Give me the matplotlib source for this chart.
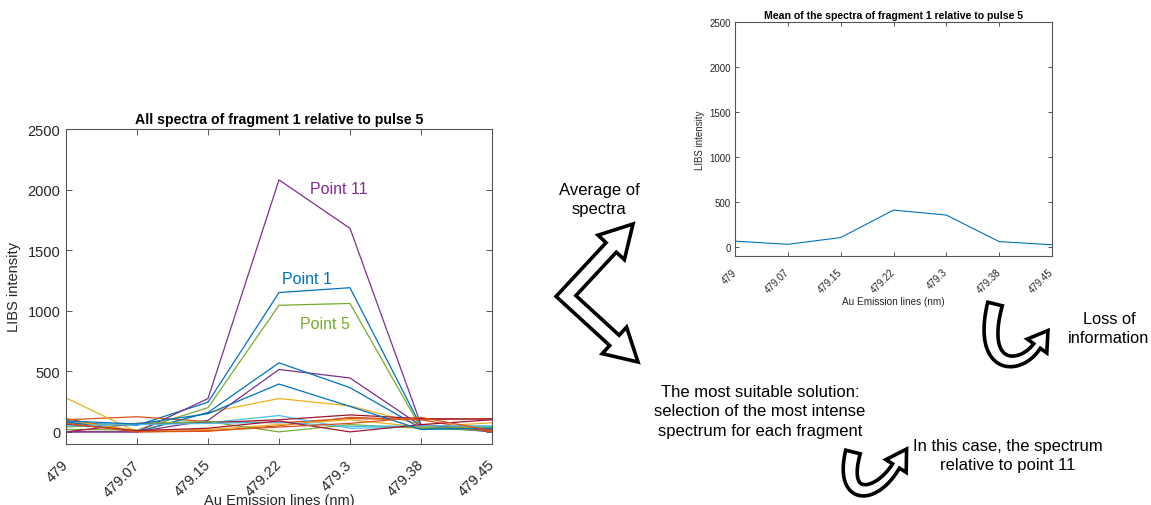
import numpy as np
import matplotlib
matplotlib.use("Agg")
import matplotlib.pyplot as plt
from matplotlib.patches import Polygon

plt.rcParams["font.family"] = ["Liberation Sans", "DejaVu Sans"]

# Au emission line positions (nm) used as x tick labels
wavelengths = ["479", "479.07", "479.15", "479.22", "479.3", "479.38", "479.45"]

# LIBS spectra of fragment 1, pulse 5 (one list per measured point)
point_1 = [75, 55, 245, 1150, 1190, 45, 25]
point_2 = [100, 125, 85, 75, 110, 100, 110]
point_3 = [280, 0, 160, 275, 215, 60, 0]
point_4 = [0, 0, 95, 515, 445, 50, 0]
point_5 = [20, 15, 200, 1045, 1060, 30, 10]
point_6 = [60, 65, 75, 135, 30, 40, 45]
point_7 = [0, 70, 75, 100, 140, 110, 105]
point_8 = [85, 0, 160, 570, 365, 30, 30]
point_9 = [110, 0, 5, 50, 120, 100, 0]
point_10 = [95, 10, 20, 60, 100, 40, 75]
point_11 = [0, 0, 275, 2080, 1680, 60, 15]
point_12 = [40, 70, 85, 0, 60, 30, 40]
point_13 = [50, 60, 70, 80, 45, 50, 50]
point_14 = [65, 10, 30, 90, 0, 60, 100]
point_15 = [90, 65, 150, 395, 210, 20, 30]
point_16 = [70, 0, 10, 40, 70, 120, 10]
spectra = [point_1, point_2, point_3, point_4, point_5, point_6, point_7, point_8,
           point_9, point_10, point_11, point_12, point_13, point_14, point_15, point_16]

# Mean spectrum of the same fragment
mean_spectrum = [65, 30, 105, 410, 355, 60, 25]

# Labelled points: (name, spectrum index, x position, y position)
point_labels = [("Point 11", 10, 3.44, 2005), ("Point 1", 0, 3.04, 1262), ("Point 5", 4, 3.30, 891)]

line_colors = ["#0072BD", "#D95319", "#EDB120", "#7E2F8E", "#77AC30", "#4DBEEE", "#A2142F"]
axis_color = "#555555"
text_color = "#262626"

W, H = 1151, 506
fig = plt.figure(figsize=(W / 100, H / 100), dpi=100)


def style_axes(ax, labelsize, length, pad_x, pad_y):
    for sp in ax.spines.values():
        sp.set_color(axis_color)
        sp.set_linewidth(0.8)
    ax.tick_params(direction="in", top=True, right=True, length=length, width=0.7,
                   color=axis_color, labelcolor=text_color, labelsize=labelsize)
    ax.tick_params(axis="x", pad=pad_x)
    ax.tick_params(axis="y", pad=pad_y)


# ---- left: all spectra ----
ax1 = fig.add_axes([66 / W, 1 - 445 / H, 426 / W, 315 / H])
x = np.arange(len(wavelengths))
for i, s in enumerate(spectra):
    ax1.plot(x, s, color=line_colors[i % len(line_colors)], lw=0.9)
ax1.set_xlim(0, len(wavelengths) - 1)
ax1.set_ylim(-100, 2500)
ax1.set_yticks([0, 500, 1000, 1500, 2000, 2500])
ax1.set_xticks(x)
ax1.set_xticklabels(wavelengths, rotation=45, ha="right", va="center", rotation_mode="anchor")
style_axes(ax1, 10.5, 4, 13, 4)
ax1.set_title("All spectra of fragment 1 relative to pulse 5", fontsize=10.2,
              fontweight="bold", color="black", pad=4)
ax1.set_ylabel("LIBS intensity", fontsize=10.5, color=text_color, labelpad=5)
ax1.set_xlabel("Au Emission lines (nm)", fontsize=10.5, color=text_color, labelpad=-4)
for name, idx, px, py in point_labels:
    ax1.text(px, py, name, fontsize=11.5, va="center", ha="left",
             color=line_colors[idx % len(line_colors)])

# ---- right: mean spectrum ----
ax2 = fig.add_axes([735 / W, 1 - 257 / H, 317 / W, 234 / H])
ax2.plot(x, mean_spectrum, color="#0072BD", lw=0.8)
ax2.set_xlim(0, len(wavelengths) - 1)
ax2.set_ylim(-100, 2500)
ax2.set_yticks([0, 500, 1000, 1500, 2000, 2500])
ax2.set_xticks(x)
ax2.set_xticklabels(wavelengths, rotation=45, ha="right", va="center", rotation_mode="anchor")
style_axes(ax2, 7, 3, 10, 3)
ax2.set_title("Mean of the spectra of fragment 1 relative to pulse 5", fontsize=7.6,
              fontweight="bold", color="black", pad=3)
ax2.set_ylabel("LIBS intensity", fontsize=7, color=text_color, labelpad=3)
ax2.set_xlabel("Au Emission lines (nm)", fontsize=7.2, color=text_color, labelpad=1)

# ---- overlay for arrows and notes (pixel coordinates, y downwards) ----
ov = fig.add_axes([0, 0, 1, 1])
ov.set_xlim(0, W)
ov.set_ylim(H, 0)
ov.axis("off")
ov.patch.set_alpha(0)


def band_outline(pts, half_w, head_len, head_hw, head_start=False, head_end=True):
    """Outline of a thick (possibly curved) band with arrow heads."""
    pts = np.asarray(pts, float)
    hw = np.broadcast_to(np.asarray(half_w, float), (len(pts),))
    n = len(pts)
    seg = np.diff(pts, axis=0)
    seg /= np.linalg.norm(seg, axis=1)[:, None]
    seg_n = np.stack([-seg[:, 1], seg[:, 0]], axis=1)
    left, right = [], []
    for i in range(n):
        if i == 0:
            nv, scale = seg_n[0], 1.0
        elif i == n - 1:
            nv, scale = seg_n[-1], 1.0
        else:
            a = seg_n[i - 1] + seg_n[i]
            a /= np.linalg.norm(a)
            scale = 1.0 / max(np.dot(a, seg_n[i]), 0.2)
            nv = a
        left.append(pts[i] + nv * hw[i] * scale)
        right.append(pts[i] - nv * hw[i] * scale)
    outline = list(left)
    if head_end:
        t, nn = seg[-1], seg_n[-1]
        outline += [pts[-1] + nn * head_hw, pts[-1] + t * head_len, pts[-1] - nn * head_hw]
    outline += right[::-1]
    if head_start:
        t, nn = -seg[0], seg_n[0]
        outline += [pts[0] - nn * head_hw, pts[0] + t * head_len, pts[0] + nn * head_hw]
    return np.array(outline)


def bezier(p0, p1, p2, p3, m=60):
    t = np.linspace(0, 1, m)[:, None]
    p0, p1, p2, p3 = map(np.asarray, (p0, p1, p2, p3))
    return ((1 - t) ** 3) * p0 + 3 * ((1 - t) ** 2) * t * p1 + 3 * (1 - t) * t ** 2 * p2 + t ** 3 * p3


def draw_outline(poly):
    ov.add_patch(Polygon(poly, closed=True, facecolor="white", edgecolor="black",
                         lw=2.6, joinstyle="miter"))


# double bent arrow between the two routes
vertex = np.array([566.0, 297.0])
tip_up = np.array([633.0, 225.0])
tip_down = np.array([638.0, 363.0])
d_up = (tip_up - vertex) / np.linalg.norm(tip_up - vertex)
d_down = (tip_down - vertex) / np.linalg.norm(tip_down - vertex)
chev = [tip_up - d_up * 32, vertex, tip_down - d_down * 32]
draw_outline(band_outline(chev, 7, 32, 18, head_start=True, head_end=True))

# curved arrow next to the mean spectrum
c1 = bezier((995, 305), (978, 372), (1020, 372), (1037, 347))
draw_outline(band_outline(c1, np.linspace(7.5, 4, len(c1)), 19, 12))

# curved arrow below the selection note
c2 = bezier((853, 453), (840, 503), (876, 500), (896, 467))
draw_outline(band_outline(c2, np.linspace(7.5, 4, len(c2)), 20, 12))

note_kw = dict(fontsize=12, ha="center", va="center", color="black", linespacing=1.38)
ov.text(599, 200, "Average of\nspectra", **note_kw)
ov.text(760, 412, "The most suitable solution:\nselection of the most intense\nspectrum for each fragment", **note_kw)
ov.text(1109, 329, "Loss of\ninformation", **dict(note_kw, fontsize=11.8))
ov.text(1008, 456, "In this case, the spectrum\nrelative to point 11", **note_kw)

fig.savefig("out.png", dpi=100)
